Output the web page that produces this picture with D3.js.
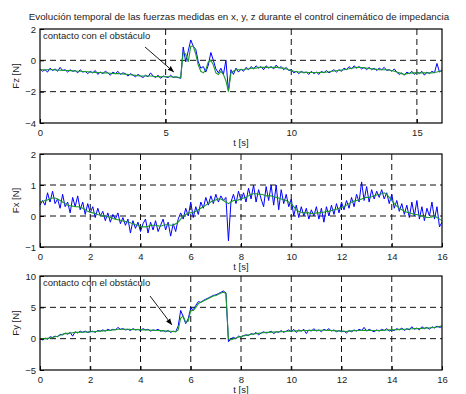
<!DOCTYPE html>
<html>
<head>
<meta charset="utf-8">
<script src="https://cdn.jsdelivr.net/npm/d3@7"></script>
<style>
  body { margin: 0; background: #fff; }
  text { font-family: "Liberation Sans", Arial, sans-serif; fill: #222; }
</style>
</head>
<body>
<script>
const width = 466;
const height = 394;

// sample period of the recorded signals [s]
const DT = 0.1;

const fzRaw = [
  -0.55, -0.7, -0.6, -0.75, -0.5, -0.65, -0.55, -0.7, -0.45, -0.65,
  -0.6, -0.75, -0.6, -0.7, -0.65, -0.8, -0.6, -0.75, -0.7, -0.85,
  -0.7, -0.8, -0.65, -0.9, -0.75, -0.85, -0.7, -0.8, -0.95, -0.75,
  -0.85, -0.7, -0.9, -0.8, -0.85, -1.0, -0.85, -0.95, -1.05, -0.9,
  -1.0, -1.1, -0.95, -1.05, -0.8, -1.0, -1.1, -0.95, -1.15, -1.0,
  -1.05, -1.1, -0.95, -1.1, -1.05, -1.1, -1.15, 0.85, -0.1, 0.6,
  1.3, 0.9, 0.7, -0.1, -0.5, -0.4, -0.75, -0.3, 0.5, 0.0,
  -0.55, -0.8, -0.5, -0.9, 0.0, -1.95, -0.6, -0.9, -0.5, -0.75,
  -0.55, -0.7, -0.45, -0.6, -0.4, -0.55, -0.35, -0.5, -0.4, -0.6,
  -0.35, -0.5, -0.4, -0.55, -0.3, -0.5, -0.4, -0.6, -0.45, -0.65,
  -0.6, -0.8, -0.7, -0.85, -0.7, -0.8, -0.75, -0.9, -0.7, -0.85,
  -0.75, -0.9, -0.7, -0.8, -0.65, -0.8, -0.7, -0.6, -0.75, -0.6,
  -0.7, -0.5, -0.6, -0.4, -0.55, -0.35, -0.5, -0.4, -0.55, -0.45,
  -0.6, -0.45, -0.6, -0.5, -0.65, -0.5, -0.6, -0.45, -0.65, -0.6,
  -0.7, -0.55, -0.75, -0.9, -0.8, -0.95, -0.75, -0.85, -0.7, -0.9,
  -0.75, -0.85, -0.7, -0.95, -0.75, -0.85, -0.7, -0.8, -0.2, -0.75,
  -0.6
];
const fzFilt = [
  -0.6, -0.6, -0.6, -0.6, -0.6, -0.6, -0.62, -0.62, -0.63, -0.64,
  -0.65, -0.65, -0.66, -0.67, -0.68, -0.7, -0.7, -0.71, -0.72, -0.73,
  -0.75, -0.76, -0.77, -0.78, -0.78, -0.8, -0.8, -0.81, -0.82, -0.83,
  -0.85, -0.85, -0.86, -0.87, -0.88, -0.9, -0.92, -0.94, -0.96, -0.98,
  -1.0, -1.0, -1.0, -1.0, -1.0, -1.02, -1.03, -1.04, -1.05, -1.05,
  -1.05, -1.05, -1.05, -1.06, -1.07, -1.08, -1.1, 0.5, 0.4, -0.1,
  0.9, 0.9, 0.4, -0.3, -0.7, -0.8, -0.6, -0.1, 0.0, -0.3,
  -0.8, -0.9, -0.7, -0.9, -1.3, -2.0, -0.8, -0.7, -0.6, -0.6,
  -0.6, -0.6, -0.55, -0.55, -0.5, -0.5, -0.5, -0.45, -0.45, -0.45,
  -0.45, -0.45, -0.45, -0.45, -0.45, -0.45, -0.5, -0.5, -0.55, -0.6,
  -0.65, -0.7, -0.72, -0.74, -0.75, -0.76, -0.77, -0.78, -0.78, -0.78,
  -0.78, -0.78, -0.77, -0.76, -0.75, -0.73, -0.7, -0.68, -0.66, -0.64,
  -0.62, -0.6, -0.57, -0.54, -0.5, -0.47, -0.45, -0.45, -0.46, -0.48,
  -0.5, -0.52, -0.54, -0.56, -0.58, -0.6, -0.6, -0.6, -0.6, -0.62,
  -0.65, -0.7, -0.75, -0.8, -0.85, -0.9, -0.85, -0.82, -0.8, -0.8,
  -0.8, -0.8, -0.8, -0.8, -0.8, -0.8, -0.8, -0.78, -0.75, -0.7,
  -0.7
];

const fxRaw = [
  0.35, 0.5, 0.35, 0.75, 0.45, 0.8, 0.4, 0.55, 0.25, 0.7,
  0.3, 0.45, 0.1, 0.6, 0.3, 0.65, 0.2, 0.45, 0.05, 0.4,
  0.1, 0.3, -0.05, 0.25, 0.0, 0.15, -0.15, 0.1, -0.2, 0.05,
  -0.1, 0.1, -0.25, -0.05, -0.3, -0.1, -0.55, -0.15, -0.4, -0.2,
  -0.5, -0.25, -0.1, -0.55, -0.2, -0.45, -0.15, -0.5, -0.3, -0.1,
  -0.45, -0.2, -0.65, -0.25, -0.5, -0.1, 0.1, -0.1, 0.25, 0.0,
  0.45, -0.05, 0.3, 0.05, 0.45, 0.25, 0.6, 0.35, 0.65, 0.4,
  0.7, 0.45, 0.65, 0.5, 0.6, -0.8, 0.45, 0.7, 0.4, 0.8,
  0.5, 0.75, 0.45, 0.9, 0.55, 1.0, 0.45, 0.85, 0.55, 0.3,
  0.95, 0.5, 1.0, 0.35, 1.0, 0.2, 0.85, 0.4, 0.7, 0.3,
  0.55, 0.0, 0.35, -0.05, 0.3, 0.0, 0.25, -0.1, 0.2, 0.0,
  0.3, -0.1, 0.25, -0.2, 0.3, 0.0, 0.35, 0.05, 0.4, 0.1,
  0.45, 0.2, 0.5, 0.25, 0.6, 0.3, 0.7, 0.45, 1.1, 0.5,
  0.95, 0.45, 0.85, 0.55, 0.8, 0.6, 0.85, 0.55, 0.75, 0.4,
  0.7, 0.25, 0.5, 0.15, 0.4, 0.05, 0.35, -0.05, 0.45, 0.0,
  0.5, -0.1, 0.3, -0.15, 0.25, 0.0, 0.45, -0.1, 0.3, -0.35,
  -0.2
];
const fxFilt = [
  0.45, 0.47, 0.5, 0.52, 0.55, 0.58, 0.58, 0.55, 0.5, 0.45,
  0.4, 0.35, 0.33, 0.32, 0.3, 0.3, 0.28, 0.25, 0.2, 0.15,
  0.12, 0.1, 0.08, 0.05, 0.03, 0.0, 0.0, -0.02, -0.05, -0.08,
  -0.1, -0.12, -0.14, -0.16, -0.18, -0.2, -0.22, -0.25, -0.28, -0.3,
  -0.33, -0.35, -0.35, -0.33, -0.3, -0.3, -0.3, -0.32, -0.33, -0.3,
  -0.28, -0.28, -0.3, -0.3, -0.25, -0.2, -0.1, 0.0, 0.05, 0.1,
  0.1, 0.12, 0.15, 0.2, 0.25, 0.3, 0.35, 0.4, 0.45, 0.5,
  0.52, 0.55, 0.55, 0.5, 0.45, 0.4, 0.45, 0.5, 0.5, 0.52,
  0.55, 0.58, 0.6, 0.65, 0.7, 0.72, 0.72, 0.7, 0.7, 0.68,
  0.65, 0.65, 0.65, 0.62, 0.6, 0.58, 0.55, 0.52, 0.5, 0.45,
  0.4, 0.3, 0.2, 0.15, 0.12, 0.1, 0.1, 0.1, 0.08, 0.08,
  0.1, 0.1, 0.12, 0.12, 0.15, 0.15, 0.18, 0.2, 0.22, 0.25,
  0.28, 0.3, 0.35, 0.4, 0.45, 0.48, 0.5, 0.52, 0.55, 0.58,
  0.6, 0.6, 0.62, 0.65, 0.68, 0.7, 0.72, 0.75, 0.7, 0.6,
  0.5, 0.4, 0.32, 0.25, 0.2, 0.15, 0.12, 0.1, 0.08, 0.05,
  0.05, 0.02, 0.0, -0.02, -0.05, -0.05, -0.03, 0.0, -0.05, -0.1,
  -0.15
];

const fyRaw = [
  0.0, -0.2, 0.1, -0.1, 0.3, 0.2, 0.4, 0.3, 0.7, 0.6,
  0.9, 0.7, 1.0, 0.4, 1.1, 0.9, 1.2, 1.0, 1.2, 1.0,
  1.1, 1.2, 1.0, 1.3, 1.2, 1.4, 1.2, 1.5, 1.3, 1.5,
  1.4, 1.8, 1.5, 1.6, 1.4, 1.5, 1.3, 1.6, 1.4, 1.5,
  1.3, 1.6, 1.4, 1.5, 1.2, 1.4, 1.3, 1.5, 1.2, 1.3,
  1.1, 1.3, 1.0, 1.2, 1.1, 2.0, 4.5, 3.5, 2.4, 3.2,
  4.9, 4.6, 5.3, 5.9, 5.8, 6.1, 6.3, 6.5, 6.7, 6.9,
  7.0, 7.2, 7.4, 7.6, 7.3, -0.5, 0.0, 0.2, 0.0, 0.4,
  0.3, 0.5, 0.6, 0.5, 0.8, 0.7, 1.0, 0.6, 0.9, 1.1,
  0.9, 1.0, 1.2, 0.8, 1.1, 1.0, 1.3, 1.0, 1.2, 1.4,
  1.1, 1.5, 1.0, 1.4, 1.2, 1.5, 0.8, 1.4, 1.2, 1.6,
  1.2, 1.4, 1.1, 1.5, 1.3, 1.6, 1.2, 1.4, 1.1, 1.3,
  1.1, 1.2, 0.9, 1.3, 1.1, 1.4, 1.2, 1.5, 1.3, 1.8,
  1.2, 1.5, 1.3, 1.1, 1.4, 1.2, 1.5, 1.3, 1.6, 1.2,
  1.4, 1.3, 1.6, 1.4, 1.7, 1.3, 1.6, 1.4, 1.9, 1.5,
  1.7, 1.4, 1.9, 1.6, 1.8, 1.5, 1.9, 1.7, 2.0, 1.8,
  1.9
];
const fyFilt = [
  0.0, 0.0, 0.0, 0.05, 0.1, 0.2, 0.3, 0.4, 0.55, 0.7,
  0.8, 0.85, 0.9, 0.95, 1.0, 1.0, 1.02, 1.05, 1.07, 1.08,
  1.1, 1.12, 1.15, 1.18, 1.2, 1.25, 1.28, 1.3, 1.35, 1.4,
  1.45, 1.5, 1.5, 1.5, 1.5, 1.5, 1.48, 1.47, 1.45, 1.44,
  1.42, 1.4, 1.4, 1.38, 1.36, 1.35, 1.33, 1.3, 1.28, 1.25,
  1.22, 1.2, 1.18, 1.15, 1.1, 1.4, 3.3, 3.6, 2.6, 2.8,
  4.5, 4.5, 5.0, 5.6, 5.8, 6.0, 6.2, 6.4, 6.6, 6.8,
  6.9, 7.1, 7.3, 7.4, 7.2, 0.0, -0.2, 0.0, 0.1, 0.25,
  0.35, 0.45, 0.55, 0.6, 0.7, 0.75, 0.8, 0.85, 0.9, 0.95,
  1.0, 1.0, 1.05, 1.05, 1.1, 1.1, 1.12, 1.15, 1.18, 1.2,
  1.2, 1.22, 1.25, 1.25, 1.28, 1.3, 1.3, 1.3, 1.32, 1.32,
  1.33, 1.33, 1.35, 1.35, 1.35, 1.33, 1.3, 1.28, 1.25, 1.22,
  1.2, 1.18, 1.15, 1.2, 1.25, 1.28, 1.3, 1.3, 1.32, 1.32,
  1.33, 1.33, 1.3, 1.3, 1.3, 1.3, 1.32, 1.35, 1.38, 1.4,
  1.4, 1.42, 1.45, 1.48, 1.5, 1.5, 1.52, 1.55, 1.58, 1.6,
  1.6, 1.62, 1.65, 1.68, 1.7, 1.72, 1.75, 1.8, 1.85, 1.95,
  2.05
];

const fzTicksX = [0, 5, 10, 15];
const fxyTicksX = [0, 2, 4, 6, 8, 10, 12, 14, 16];
const fzTicksY = [-4, -2, 0, 2];
const fxTicksY = [-1, 0, 1, 2];
const fyTicksY = [-5, 0, 5, 10];

const titleText = "Evolución temporal de las fuerzas medidas en x, y, z durante el control cinemático de impedancia";
const noteText = "contacto con el obstáculo";

const panels = [
  { top: 29, bottom: 123, yDomain: [-4, 2], xTicks: fzTicksX, yTicks: fzTicksY,
    raw: fzRaw, filt: fzFilt, ylabel: "Fz [N]",
    note: { text: [0.12, 1.55], from: [4.18, 0.85], to: [5.33, -0.75] } },
  { top: 154, bottom: 247, yDomain: [-1, 2], xTicks: fxyTicksX, yTicks: fxTicksY,
    raw: fxRaw, filt: fxFilt, ylabel: "Fx [N]", note: null },
  { top: 276, bottom: 370, yDomain: [-5, 10], xTicks: fxyTicksX, yTicks: fyTicksY,
    raw: fyRaw, filt: fyFilt, ylabel: "Fy [N]",
    note: { text: [0.12, 8.9], from: [4.38, 6.8], to: [5.25, 2.2] } }
];

const left = 40;
const right = 442;

const svg = d3.select("body")
  .append("svg")
  .attr("width", width)
  .attr("height", height);

svg.append("defs")
  .append("marker")
  .attr("id", "arrow")
  .attr("viewBox", "0 0 10 10")
  .attr("refX", 10)
  .attr("refY", 5)
  .attr("markerWidth", 7)
  .attr("markerHeight", 7)
  .attr("orient", "auto")
  .append("path")
  .attr("d", "M0,1L10,5L0,9Z")
  .attr("fill", "#000");

svg.append("text")
  .attr("x", 239)
  .attr("y", 20)
  .attr("text-anchor", "middle")
  .style("font-size", "9.75px")
  .text(titleText);

const x = d3.scaleLinear().domain([0, 16]).range([left, right]);

panels.forEach((p) => {
  const y = d3.scaleLinear().domain(p.yDomain).range([p.bottom, p.top]);
  const g = svg.append("g");

  // dashed grid
  g.selectAll(".vgrid")
    .data(p.xTicks.filter((t) => t > 0 && t < 16))
    .enter()
    .append("line")
    .attr("x1", (d) => x(d))
    .attr("x2", (d) => x(d))
    .attr("y1", p.top)
    .attr("y2", p.bottom)
    .attr("stroke", "#111")
    .attr("stroke-dasharray", "6,4");

  g.selectAll(".hgrid")
    .data(p.yTicks.filter((t) => t > p.yDomain[0] && t < p.yDomain[1]))
    .enter()
    .append("line")
    .attr("x1", left)
    .attr("x2", right)
    .attr("y1", (d) => y(d))
    .attr("y2", (d) => y(d))
    .attr("stroke", "#111")
    .attr("stroke-dasharray", "6,4");

  const line = d3.line()
    .x((d, i) => x(i * DT))
    .y((d) => y(d));

  g.append("path")
    .datum(p.raw)
    .attr("fill", "none")
    .attr("stroke", "#0000ff")
    .attr("stroke-width", 1)
    .attr("d", line);

  g.append("path")
    .datum(p.filt)
    .attr("fill", "none")
    .attr("stroke", "#1a9a2a")
    .attr("stroke-width", 1.1)
    .attr("d", line);

  // frame
  g.append("rect")
    .attr("x", left)
    .attr("y", p.top)
    .attr("width", right - left)
    .attr("height", p.bottom - p.top)
    .attr("fill", "none")
    .attr("stroke", "#000")
    .attr("stroke-width", 1.2);

  const xAxis = g.append("g")
    .attr("transform", `translate(0,${p.bottom})`)
    .call(d3.axisBottom(x).tickValues(p.xTicks).tickSize(-4).tickPadding(6).tickFormat(d3.format("d")));
  const yAxis = g.append("g")
    .attr("transform", `translate(${left},0)`)
    .call(d3.axisLeft(y).tickValues(p.yTicks).tickSize(-4).tickPadding(4).tickFormat(d3.format("d")));

  [xAxis, yAxis].forEach((ax) => {
    ax.select(".domain").remove();
    ax.selectAll("line").attr("stroke", "#000");
    ax.selectAll("text")
      .style("font-size", "9.5px")
      .style("font-family", "\"Liberation Sans\", Arial, sans-serif")
      .attr("fill", "#222");
  });

  g.append("text")
    .attr("x", (left + right) / 2)
    .attr("y", p.bottom + 23)
    .attr("text-anchor", "middle")
    .style("font-size", "9.5px")
    .text("t [s]");

  g.append("text")
    .attr("transform", `translate(19,${(p.top + p.bottom) / 2}) rotate(-90)`)
    .attr("text-anchor", "middle")
    .style("font-size", "9.5px")
    .text(p.ylabel);

  if (p.note) {
    g.append("text")
      .attr("x", x(p.note.text[0]))
      .attr("y", y(p.note.text[1]))
      .attr("dy", "0.35em")
      .style("font-size", "9.5px")
      .text(noteText);
    g.append("line")
      .attr("x1", x(p.note.from[0]))
      .attr("y1", y(p.note.from[1]))
      .attr("x2", x(p.note.to[0]))
      .attr("y2", y(p.note.to[1]))
      .attr("stroke", "#000")
      .attr("stroke-width", 0.9)
      .attr("marker-end", "url(#arrow)");
  }
});
</script>
</body>
</html>
